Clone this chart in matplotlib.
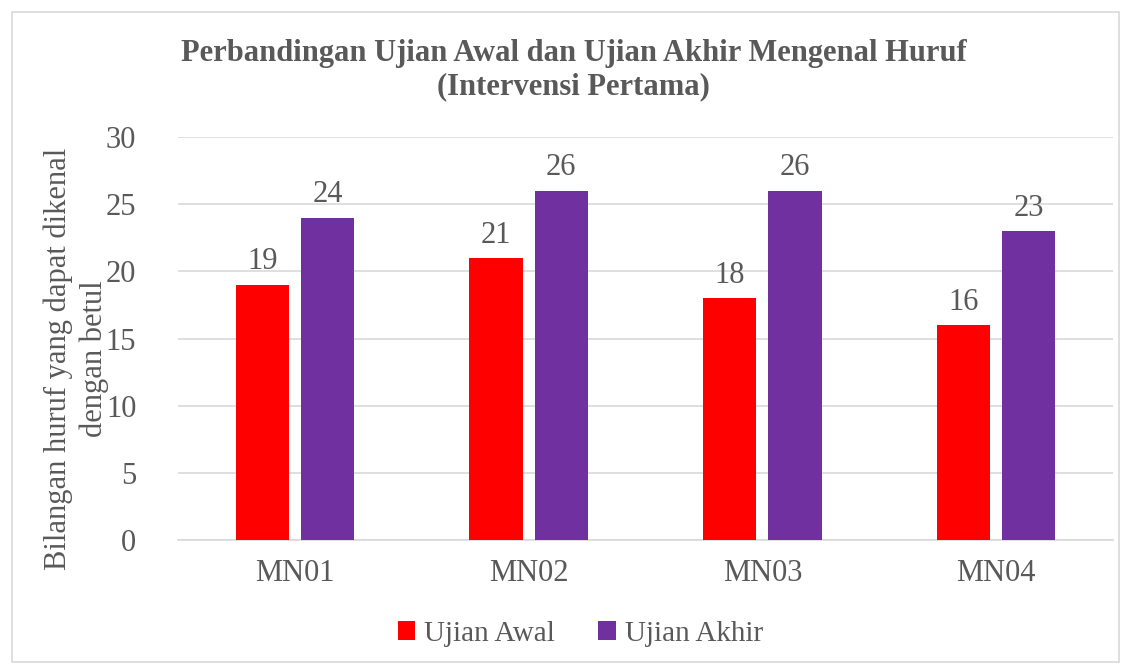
import numpy as np
import matplotlib
matplotlib.use("Agg")
import matplotlib.pyplot as plt
from matplotlib.patches import Rectangle

kategori = ["MN01", "MN02", "MN03", "MN04"]
ujian_awal = [19, 21, 18, 16]
ujian_akhir = [24, 26, 26, 23]
yticks = [0, 5, 10, 15, 20, 25, 30]

abu = "#595959"
plt.rcParams["font.family"] = ["Liberation Serif", "DejaVu Serif"]
fs = 22

fig = plt.figure(figsize=(11.31, 6.68), dpi=100)
ax = fig.add_axes([178 / 1131, 1 - 540 / 668, 935 / 1131, 403 / 668])

x = np.arange(len(kategori))
w = 0.227
gap = 0.052
b1 = ax.bar(x - (w + gap) / 2, ujian_awal, w, color="#FF0000", label="Ujian Awal", zorder=3)
b2 = ax.bar(x + (w + gap) / 2, ujian_akhir, w, color="#7030A0", label="Ujian Akhir", zorder=3)

for bars in (b1, b2):
    ax.bar_label(bars, padding=6, fontsize=fs, color=abu)

ax.set_xlim(-0.5, len(kategori) - 0.5)
ax.set_ylim(0, 30)
ax.set_yticks(yticks)
ax.set_xticks(x)
ax.set_xticklabels(kategori)
ax.tick_params(axis="y", length=0, labelsize=fs, labelcolor=abu, pad=30)
ax.tick_params(axis="x", length=0, labelsize=fs, labelcolor=abu, pad=14)
ax.grid(axis="y", color="#D9D9D9", linewidth=1.2, zorder=0)
for s in ["top", "right", "left"]:
    ax.spines[s].set_visible(False)
ax.spines["bottom"].set_color("#D9D9D9")
ax.spines["bottom"].set_linewidth(1.2)

ax.set_ylabel("Bilangan huruf yang dapat dikenal\ndengan betul", fontsize=fs,
              color=abu, linespacing=1.3)
ax.yaxis.set_label_coords(-0.074, 0.45)

fig.text(0.507, 1 - 70 / 668, "Perbandingan Ujian Awal dan Ujian Akhir Mengenal Huruf\n(Intervensi Pertama)",
         ha="center", va="center", fontsize=fs, fontweight="bold", color=abu, linespacing=1.2)

fig.legend(handles=[b1, b2], loc="center", bbox_to_anchor=(0.513, 1 - 634 / 668), ncol=2,
           frameon=False, fontsize=fs - 1, labelcolor=abu, handlelength=0.6, handleheight=0.6,
           handletextpad=0.3, columnspacing=1.5)

fig.patches.append(Rectangle((12 / 1131, 1 - 662 / 668), 1 - 24 / 1131, 650 / 668,
                             transform=fig.transFigure, fill=False, edgecolor="#D9D9D9",
                             linewidth=1.2))

fig.savefig("out.png", dpi=100)
